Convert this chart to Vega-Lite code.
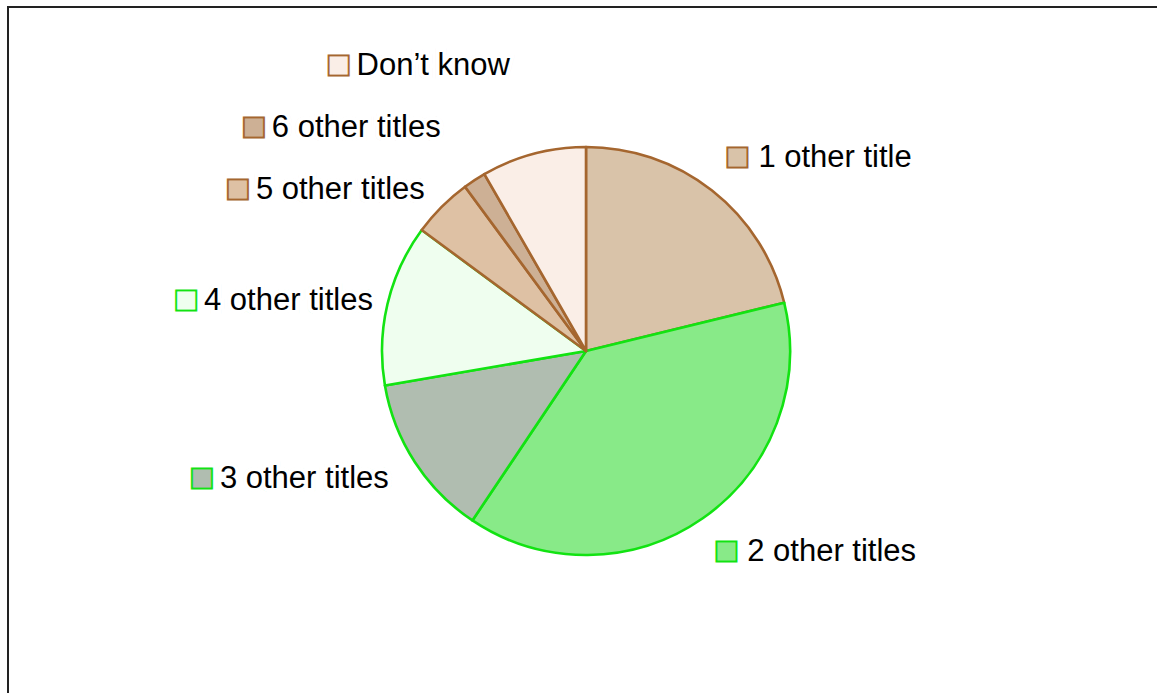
{
  "$schema": "https://vega.github.io/schema/vega-lite/v6.json",
  "width": 1156,
  "height": 688,
  "autosize": {"type": "none"},
  "padding": {"left": 8, "top": 7, "right": -7, "bottom": -2},
  "background": "white",
  "config": {
    "view": {"stroke": "#222", "strokeWidth": 2},
    "text": {"font": "Liberation Sans", "fontSize": 31}
  },
  "data": {
    "values": [
      {"category": "1 other title", "value": 21.2, "idx": 1},
      {"category": "2 other titles", "value": 38.2, "idx": 2},
      {"category": "3 other titles", "value": 12.9, "idx": 3},
      {"category": "4 other titles", "value": 12.8, "idx": 4},
      {"category": "5 other titles", "value": 4.8, "idx": 5},
      {"category": "6 other titles", "value": 1.8, "idx": 6},
      {"category": "Don’t know", "value": 8.3, "idx": 7}
    ]
  },
  "transform": [
    {"stack": "value", "groupby": [], "sort": [{"field": "idx", "order": "ascending"}], "as": ["t0", "t1"]},
    {"calculate": "(datum.t0 + datum.t1) / 2", "as": "tm"},
    {"calculate": "'■ ' + datum.category", "as": "sq"}
  ],
  "resolve": {"scale": {"stroke": "independent"}},
  "layer": [
    {
      "mark": {"type": "rule", "opacity": 0},
      "encoding": {"x": {"datum": 0, "type": "quantitative", "axis": null}}
    },
    {
      "mark": {"type": "arc", "outerRadius": 204, "strokeWidth": 2.6, "strokeJoin": "round"},
      "encoding": {
        "theta": {"field": "t0", "type": "quantitative", "scale": {"domain": [0, 100], "nice": false}},
        "theta2": {"field": "t1"},
        "fill": {"field": "category", "type": "nominal", "legend": null,
          "scale": {"domain": ["1 other title", "2 other titles", "3 other titles", "4 other titles", "5 other titles", "6 other titles", "Don’t know"],
                    "range": ["#D9C3A9", "#88EA88", "#B0BDB0", "#EFFEEF", "#DEC1A4", "#CDB095", "#FAEEE7"]}},
        "stroke": {"field": "category", "type": "nominal", "legend": null,
          "scale": {"domain": ["1 other title", "2 other titles", "3 other titles", "4 other titles", "5 other titles", "6 other titles", "Don’t know"],
                    "range": ["#A5662F", "#12E312", "#12E312", "#12E312", "#A5662F", "#A5662F", "#A5662F"]}}
      }
    },
    {
      "mark": {"type": "text", "align": "center", "baseline": "middle", "strokeWidth": 7},
      "encoding": {
        "theta": {"field": "tm", "type": "quantitative"},
        "radius": {"field": "idx", "type": "quantitative", "scale": {"type": "linear", "domain": [1, 2, 3, 4, 5, 6, 7], "range": [245, 245, 235, 219, 228, 266, 295], "zero": false, "nice": false}},
        "text": {"condition": {"test": "datum.idx <= 2", "value": "■"}, "value": ""},
        "fill": {"field": "category", "type": "nominal", "legend": null},
        "stroke": {"field": "category", "type": "nominal", "legend": null,
          "scale": {"domain": ["1 other title", "2 other titles", "3 other titles", "4 other titles", "5 other titles", "6 other titles", "Don’t know"],
                    "range": ["#A5662F", "#12E312", "#12E312", "#12E312", "#A5662F", "#A5662F", "#A5662F"]}}
      }
    },
    {
      "mark": {"type": "text", "align": "center", "baseline": "middle", "strokeWidth": 3},
      "encoding": {
        "theta": {"field": "tm", "type": "quantitative"},
        "radius": {"field": "idx", "type": "quantitative"},
        "text": {"condition": {"test": "datum.idx <= 2", "value": "■"}, "value": ""},
        "fill": {"field": "category", "type": "nominal", "legend": null},
        "stroke": {"field": "category", "type": "nominal", "legend": null,
          "scale": {"domain": ["1 other title", "2 other titles", "3 other titles", "4 other titles", "5 other titles", "6 other titles", "Don’t know"],
                    "range": ["#D9C3A9", "#88EA88", "#B0BDB0", "#EFFEEF", "#DEC1A4", "#CDB095", "#FAEEE7"]}}
      }
    },
    {
      "mark": {"type": "text", "align": "left", "baseline": "middle", "dx": 21, "fill": "#000"},
      "encoding": {
        "theta": {"field": "tm", "type": "quantitative"},
        "radius": {"field": "idx", "type": "quantitative"},
        "text": {"condition": {"test": "datum.idx <= 2", "field": "category", "type": "nominal"}, "value": ""}
      }
    },
    {
      "mark": {"type": "text", "align": "right", "baseline": "middle", "strokeWidth": 7},
      "encoding": {
        "theta": {"field": "tm", "type": "quantitative"},
        "radius": {"field": "idx", "type": "quantitative"},
        "text": {"condition": {"test": "datum.idx >= 3", "field": "sq", "type": "nominal"}, "value": ""},
        "fill": {"field": "category", "type": "nominal", "legend": null},
        "stroke": {"field": "category", "type": "nominal", "legend": null,
          "scale": {"domain": ["1 other title", "2 other titles", "3 other titles", "4 other titles", "5 other titles", "6 other titles", "Don’t know"],
                    "range": ["#A5662F", "#12E312", "#12E312", "#12E312", "#A5662F", "#A5662F", "#A5662F"]}}
      }
    },
    {
      "mark": {"type": "text", "align": "right", "baseline": "middle", "strokeWidth": 3},
      "encoding": {
        "theta": {"field": "tm", "type": "quantitative"},
        "radius": {"field": "idx", "type": "quantitative"},
        "text": {"condition": {"test": "datum.idx >= 3", "field": "sq", "type": "nominal"}, "value": ""},
        "fill": {"field": "category", "type": "nominal", "legend": null},
        "stroke": {"field": "category", "type": "nominal", "legend": null,
          "scale": {"domain": ["1 other title", "2 other titles", "3 other titles", "4 other titles", "5 other titles", "6 other titles", "Don’t know"],
                    "range": ["#D9C3A9", "#88EA88", "#B0BDB0", "#EFFEEF", "#DEC1A4", "#CDB095", "#FAEEE7"]}}
      }
    },
    {
      "mark": {"type": "text", "align": "right", "baseline": "middle", "fill": "#fff", "stroke": "#fff", "strokeWidth": 8.5},
      "encoding": {
        "theta": {"field": "tm", "type": "quantitative"},
        "radius": {"field": "idx", "type": "quantitative"},
        "text": {"condition": {"test": "datum.idx >= 3", "field": "category", "type": "nominal"}, "value": ""}
      }
    },
    {
      "mark": {"type": "text", "align": "right", "baseline": "middle", "fill": "#000"},
      "encoding": {
        "theta": {"field": "tm", "type": "quantitative"},
        "radius": {"field": "idx", "type": "quantitative"},
        "text": {"condition": {"test": "datum.idx >= 3", "field": "category", "type": "nominal"}, "value": ""}
      }
    }
  ]
}
